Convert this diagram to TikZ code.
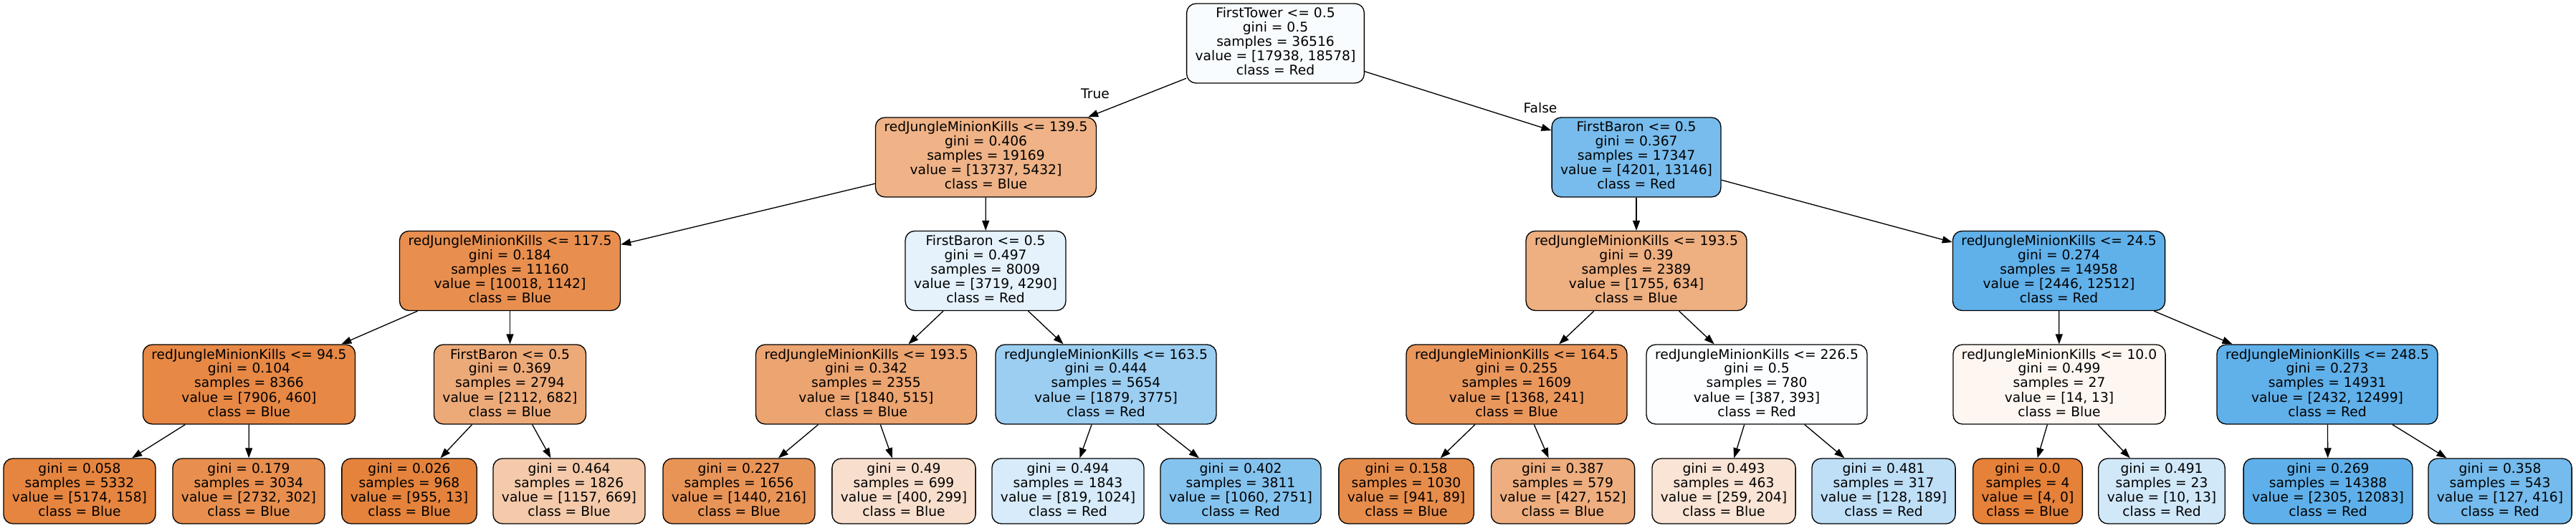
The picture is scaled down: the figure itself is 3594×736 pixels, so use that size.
\documentclass[tikz,border=0pt]{standalone}
\usepackage{fontspec}
\setmainfont{DejaVu Sans}
\usetikzlibrary{arrows.meta}
\definecolor{co}{RGB}{229,129,57}
\definecolor{cb}{RGB}{57,157,229}
\newcommand\lastdp{\rule[-5.2pt]{0pt}{5.2pt}}
\begin{document}
\begin{tikzpicture}[x=1pt,y=-1pt,
  tn/.style={draw=black, line width=1.33pt, rounded corners=13pt, align=center,
    inner xsep=12pt, inner ysep=0pt, minimum height=111pt,
    font=\fontsize{18.67pt}{20pt}\selectfont},
  leaf/.style={tn, minimum height=91pt},
  lbl/.style={inner sep=0pt, font=\fontsize{18.67pt}{20pt}\selectfont},
  edge/.style={line width=1.33pt, -{Triangle[length=14pt,width=10pt]}}]
\useasboundingbox (0,0) rectangle (3594,736);
% level 0
\node[tn, fill=cb!3.45!white] (n0) at (1779.5,60.5) {FirstTower <= 0.5\\gini = 0.5\\samples = 36516\\value = [17938, 18578]\\class = Red\lastdp};
% level 1
\node[tn, fill=co!60.46!white] (n1) at (1375.5,219.5) {redJungleMinionKills <= 139.5\\gini = 0.406\\samples = 19169\\value = [13737, 5432]\\class = Blue\lastdp};
\node[tn, fill=cb!68.04!white] (n16) at (2283,219.5) {FirstBaron <= 0.5\\gini = 0.367\\samples = 17347\\value = [4201, 13146]\\class = Red\lastdp};
% level 2
\node[tn, fill=co!88.60!white] (n2) at (711.5,378) {redJungleMinionKills <= 117.5\\gini = 0.184\\samples = 11160\\value = [10018, 1142]\\class = Blue\lastdp};
\node[tn, fill=cb!13.31!white] (n9) at (1375,378) {FirstBaron <= 0.5\\gini = 0.497\\samples = 8009\\value = [3719, 4290]\\class = Red\lastdp};
\node[tn, fill=co!63.87!white] (n17) at (2283,378) {redJungleMinionKills <= 193.5\\gini = 0.39\\samples = 2389\\value = [1755, 634]\\class = Blue\lastdp};
\node[tn, fill=cb!80.45!white] (n24) at (2872.5,378) {redJungleMinionKills <= 24.5\\gini = 0.274\\samples = 14958\\value = [2446, 12512]\\class = Red\lastdp};
% level 3
\node[tn, fill=co!94.18!white] (n3) at (347.5,536.5) {redJungleMinionKills <= 94.5\\gini = 0.104\\samples = 8366\\value = [7906, 460]\\class = Blue\lastdp};
\node[tn, fill=co!67.71!white] (n6) at (711.5,536.5) {FirstBaron <= 0.5\\gini = 0.369\\samples = 2794\\value = [2112, 682]\\class = Blue\lastdp};
\node[tn, fill=co!72.01!white] (n10) at (1208.5,536.5) {redJungleMinionKills <= 193.5\\gini = 0.342\\samples = 2355\\value = [1840, 515]\\class = Blue\lastdp};
\node[tn, fill=cb!50.23!white] (n13) at (1543,536.5) {redJungleMinionKills <= 163.5\\gini = 0.444\\samples = 5654\\value = [1879, 3775]\\class = Red\lastdp};
\node[tn, fill=co!82.38!white] (n18) at (2116,536.5) {redJungleMinionKills <= 164.5\\gini = 0.255\\samples = 1609\\value = [1368, 241]\\class = Blue\lastdp};
\node[tn, fill=cb!1.53!white] (n21) at (2451,536.5) {redJungleMinionKills <= 226.5\\gini = 0.5\\samples = 780\\value = [387, 393]\\class = Red\lastdp};
\node[tn, fill=co!7.14!white] (n25) at (2873,536.5) {redJungleMinionKills <= 10.0\\gini = 0.499\\samples = 27\\value = [14, 13]\\class = Blue\lastdp};
\node[tn, fill=cb!80.54!white] (n28) at (3247,536.5) {redJungleMinionKills <= 248.5\\gini = 0.273\\samples = 14931\\value = [2432, 12499]\\class = Red\lastdp};
% leaves
\node[leaf, fill=co!96.95!white] (n4) at (111,685.5) {gini = 0.058\\samples = 5332\\value = [5174, 158]\\class = Blue\lastdp};
\node[leaf, fill=co!88.95!white] (n5) at (347,685.5) {gini = 0.179\\samples = 3034\\value = [2732, 302]\\class = Blue\lastdp};
\node[leaf, fill=co!98.64!white] (n7) at (571,685.5) {gini = 0.026\\samples = 968\\value = [955, 13]\\class = Blue\lastdp};
\node[leaf, fill=co!42.18!white] (n8) at (794,685.5) {gini = 0.464\\samples = 1826\\value = [1157, 669]\\class = Blue\lastdp};
\node[leaf, fill=co!85.0!white] (n11) at (1031,685.5) {gini = 0.227\\samples = 1656\\value = [1440, 216]\\class = Blue\lastdp};
\node[leaf, fill=co!25.25!white] (n12) at (1261,685.5) {gini = 0.49\\samples = 699\\value = [400, 299]\\class = Blue\lastdp};
\node[leaf, fill=cb!20.02!white] (n14) at (1490,685.5) {gini = 0.494\\samples = 1843\\value = [819, 1024]\\class = Red\lastdp};
\node[leaf, fill=cb!61.47!white] (n15) at (1731,685.5) {gini = 0.402\\samples = 3811\\value = [1060, 2751]\\class = Red\lastdp};
\node[leaf, fill=co!90.54!white] (n19) at (1962,685.5) {gini = 0.158\\samples = 1030\\value = [941, 89]\\class = Blue\lastdp};
\node[leaf, fill=co!64.40!white] (n20) at (2180.5,685.5) {gini = 0.387\\samples = 579\\value = [427, 152]\\class = Blue\lastdp};
\node[leaf, fill=co!21.24!white] (n22) at (2405,685.5) {gini = 0.493\\samples = 463\\value = [259, 204]\\class = Blue\lastdp};
\node[leaf, fill=cb!32.28!white] (n23) at (2628,685.5) {gini = 0.481\\samples = 317\\value = [128, 189]\\class = Red\lastdp};
\node[leaf, fill=co] (n26) at (2829,685.5) {gini = 0.0\\samples = 4\\value = [4, 0]\\class = Blue\lastdp};
\node[leaf, fill=cb!23.08!white] (n27) at (3016,685.5) {gini = 0.491\\samples = 23\\value = [10, 13]\\class = Red\lastdp};
\node[leaf, fill=cb!80.92!white] (n29) at (3248,685.5) {gini = 0.269\\samples = 14388\\value = [2305, 12083]\\class = Red\lastdp};
\node[leaf, fill=cb!69.47!white] (n30) at (3488,685.5) {gini = 0.358\\samples = 543\\value = [127, 416]\\class = Red\lastdp};
% edge labels
\node[lbl] (tl) at (1528,131) {True};
\node[lbl] (fl) at (2149,151) {False};
% edges
\foreach \a/\b in {n0/n1,n0/n16,n1/n2,n1/n9,n2/n3,n2/n6,n3/n4,n3/n5,n6/n7,n6/n8,
  n9/n10,n9/n13,n10/n11,n10/n12,n13/n14,n13/n15,n16/n17,n16/n24,n17/n18,n17/n21,
  n18/n19,n18/n20,n21/n22,n21/n23,n24/n25,n24/n28,n25/n26,n25/n27,n28/n29,n28/n30}
  \draw[edge] (\a) -- (\b);
\end{tikzpicture}
\end{document}
